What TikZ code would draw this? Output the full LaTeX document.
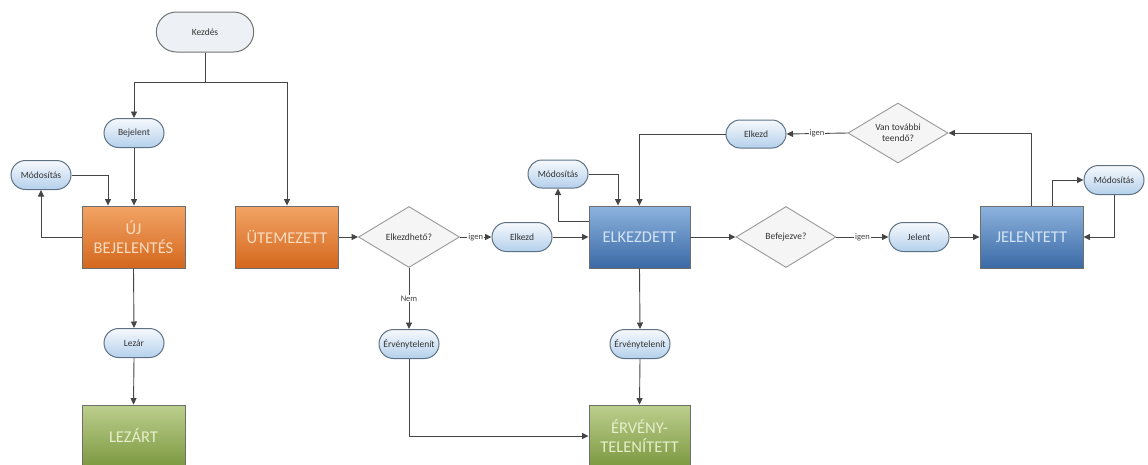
\documentclass[tikz,border=0pt]{standalone}
\usepackage{fontspec}
\setmainfont{Carlito}
\usetikzlibrary{shapes.misc,shapes.geometric,arrows.meta,calc}
\definecolor{linec}{HTML}{454545}
\definecolor{stbord}{HTML}{5E7185}
\definecolor{sttop}{HTML}{F6F9FC}
\definecolor{stbot}{HTML}{B4D0EC}
\definecolor{kzfill}{HTML}{EDF1F5}
\definecolor{ortop}{HTML}{F2A465}
\definecolor{orbot}{HTML}{D4671E}
\definecolor{ortxt}{HTML}{FADCC0}
\definecolor{bltop}{HTML}{8DB3DE}
\definecolor{blbot}{HTML}{3A69A5}
\definecolor{bltxt}{HTML}{D2E4F6}
\definecolor{grtop}{HTML}{BCCF8E}
\definecolor{grbot}{HTML}{7C9840}
\definecolor{grtxt}{HTML}{E6EFCB}
\definecolor{boxbord}{HTML}{6E6E6E}
\tikzset{
  x=1pt, y=-1pt,
  stad/.style={rounded rectangle, draw=stbord, line width=1pt, top color=sttop, bottom color=stbot,
    minimum width=62pt, minimum height=29pt, inner sep=1pt, font=\fontsize{9.5}{11}\selectfont, text=black!80},
  startn/.style={rounded rectangle, draw=black!55, line width=1pt, fill=kzfill,
    minimum width=104pt, minimum height=40pt, font=\fontsize{9.5}{11}\selectfont, text=black!80},
  statebox/.style={rectangle, draw=boxbord, line width=0.9pt, minimum width=103pt, minimum height=62pt,
    align=center, font=\fontsize{16.5}{19.5}\selectfont},
  orbox/.style={statebox, top color=ortop, bottom color=orbot, text=ortxt},
  blbox/.style={statebox, top color=bltop, bottom color=blbot, text=bltxt},
  grbox/.style={statebox, top color=grtop, bottom color=grbot, text=grtxt},
  decis/.style={diamond, draw=black!40, line width=0.9pt, fill=black!4, inner sep=0pt, aspect=1.66,
    minimum width=101pt, minimum height=61pt, align=center, font=\fontsize{9.5}{11}\selectfont, text=black!80},
  conn/.style={draw=linec, line width=0.9pt, -{Triangle[length=6.5pt,width=6pt]}},
  plain/.style={draw=linec, line width=0.9pt},
  lbl/.style={fill=white, inner sep=1pt, font=\fontsize{8.5}{9}\selectfont, text=black!75}
}
\begin{document}
\begin{tikzpicture}
\useasboundingbox (0,0) rectangle (1148,464);
\fill[white] (0,0) rectangle (1148,464);

% nodes
\node[startn] (kezd) at (205,32) {Kezdés};
\node[stad] (bej) at (134,133) {Bejelent};
\node[stad] (mod1) at (41,175) {Módosítás};
\node[orbox] (uj) at (133.5,237) {ÚJ\\BEJELENTÉS};
\node[stad] (lez) at (134,343) {Lezár};
\node[grbox] (lezart) at (133.5,436) {LEZÁRT};
\node[orbox] (utem) at (287,237) {ÜTEMEZETT};
\node[decis] (d1) at (409,237) {Elkezdhető?};
\node[stad] (erv1) at (409,344) {Érvénytelenít};
\node[stad] (elk1) at (522,237) {Elkezd};
\node[blbox, minimum width=101pt] (elkd) at (639.5,237) {ELKEZDETT};
\node[stad] (erv2) at (640,344) {Érvénytelenít};
\node[grbox, minimum width=101pt] (ervt) at (639.5,436) {ÉRVÉNY-\\TELENÍTETT};
\node[stad, minimum height=28pt] (mod2) at (558,174) {Módosítás};
\node[stad, minimum height=28pt] (elk2) at (756,134) {Elkezd};
\node[decis, minimum width=100pt, minimum height=60pt] (d3) at (898,133) {Van további\\teendő?};
\node[decis, minimum width=100pt] (d2) at (786,237) {Befejezve?};
\node[stad] (jel) at (919,237) {Jelent};
\node[blbox] (jelt) at (1031.5,237) {JELENTETT};
\node[stad] (mod3) at (1114,180) {Módosítás};

% connectors
\coordinate (j0) at (205,82);
\draw[plain] (kezd.south) -- (j0);
\draw[conn] (j0) -| (bej.north);
\draw[conn] (j0) -| (utem.north);
\draw[conn] (bej.south) -- (bej.south |- uj.north);
\draw[conn] (mod1.east) -| ($(uj.north)+(-25.5,0)$);
\draw[conn] (uj.west) -| (mod1.south);
\draw[conn] (uj.south) -- (lez.north);
\draw[conn] (lez.south) -- (lezart.north);
\draw[conn] (utem.east) -- (d1.west);
\draw[conn] (d1.east) -- node[lbl] {igen} (elk1.west);
\draw[conn] (elk1.east) -- (elkd.west);
\draw[conn] (d1.south) -- node[lbl] {Nem} (erv1.north);
\draw[conn] (erv1.south) |- (ervt.west);
\draw[conn] (elkd.south) -- (erv2.north);
\draw[conn] (erv2.south) -- (ervt.north);
\draw[conn] (mod2.east) -| ($(elkd.north)+(-21.5,0)$);
\draw[conn] ($(elkd.north west)+(0,16)$) -| (mod2.south);
\draw[conn] (elk2.west) -| (elkd.north);
\draw[conn] (elkd.east) -- (d2.west);
\draw[conn] (d2.east) -- node[lbl] {igen} (jel.west);
\draw[conn] (jel.east) -- (jelt.west);
\draw[conn] (jelt.north) |- (d3.east);
\draw[conn] ($(jelt.north)+(20.5,0)$) |- (mod3.west);
\draw[conn] (mod3.south) |- (jelt.east);
\draw[conn] (d3.west) -- node[lbl] {igen} (elk2.east);
\end{tikzpicture}
\end{document}
